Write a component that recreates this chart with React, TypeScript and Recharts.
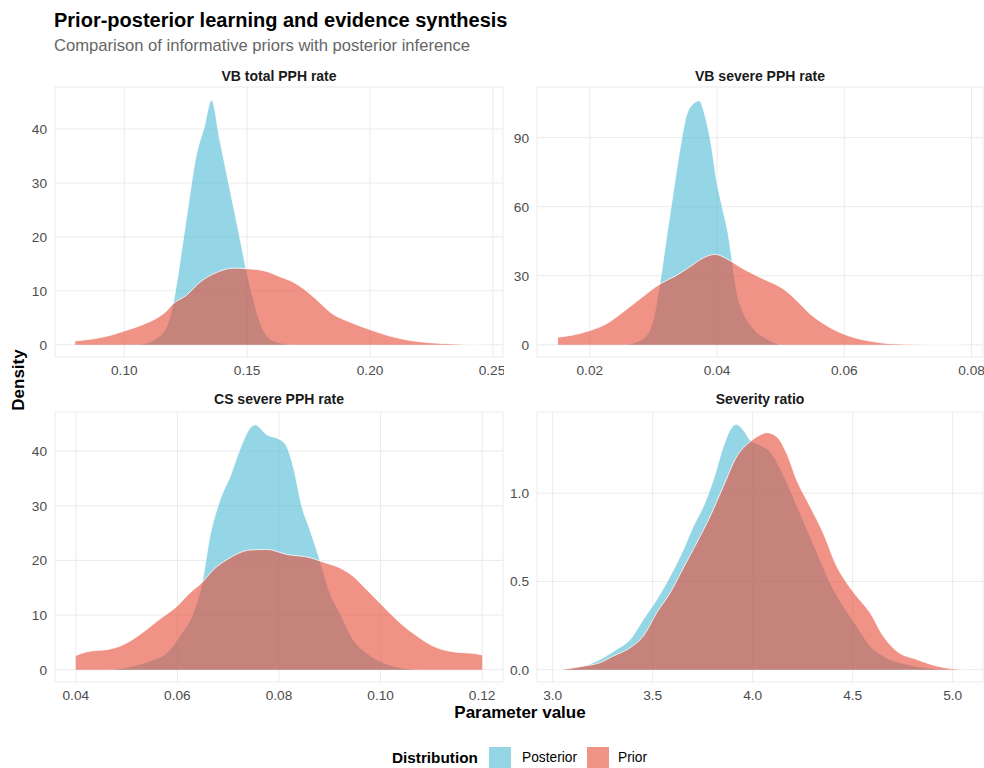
import { AreaChart, Area, XAxis, YAxis, CartesianGrid } from "recharts";

// [x, density] pairs
const vbTotalPosterior: [number, number][] = [
  [0.105, 0], [0.1098, 0.4], [0.1125, 1.0], [0.1166, 2.8], [0.1185, 5.0], [0.1199, 7.8],
  [0.1247, 21.7], [0.1294, 35.4], [0.1324, 40.2], [0.1355, 45.4], [0.1389, 37.9], [0.143, 28.8],
  [0.1471, 19.7], [0.1495, 14.2], [0.1525, 8.5], [0.1552, 4.2], [0.1579, 1.7], [0.162, 0.5],
  [0.1688, 0],
];
const vbTotalPrior: [number, number][] = [
  [0.08, 0.7], [0.0922, 1.5], [0.1003, 2.6], [0.1084, 3.9], [0.1145, 5.3], [0.1166, 6.0],
  [0.1199, 7.6], [0.1254, 9.2], [0.1308, 11.6], [0.1376, 13.4], [0.1444, 14.2], [0.1498, 14.1],
  [0.1579, 13.6], [0.1634, 12.6], [0.1688, 11.6], [0.1729, 10.4], [0.1796, 7.8], [0.1837, 6.05],
  [0.1918, 4.2], [0.2, 2.8], [0.2081, 1.6], [0.2163, 0.8], [0.2244, 0.37], [0.2313, 0.2],
  [0.2454, 0],
];
const vbSeverePosterior: [number, number][] = [
  [0.0255, 0], [0.0273, 1.2], [0.0289, 4], [0.03, 11.3], [0.031, 26.5], [0.0321, 47.5],
  [0.0331, 66], [0.0341, 84], [0.0352, 99.7], [0.036, 104], [0.0372, 106], [0.0381, 99.7],
  [0.0391, 86.7], [0.0399, 72], [0.041, 57.7], [0.0417, 49], [0.0424, 36], [0.0431, 23],
  [0.0441, 14.2], [0.0457, 7], [0.0478, 2.6], [0.0499, 0],
];
const vbSeverePrior: [number, number][] = [
  [0.015, 3.3], [0.0174, 4.3], [0.02, 6.2], [0.0226, 9.1], [0.0252, 14.2], [0.0279, 20],
  [0.0311, 26.5], [0.0336, 30.1], [0.0357, 33.8], [0.0378, 37.7], [0.0397, 39.3], [0.0415, 37.4],
  [0.0441, 33], [0.0472, 28.7], [0.0504, 24.3], [0.0525, 19.3], [0.0546, 13.5], [0.0572, 8.4],
  [0.0598, 4.8], [0.0619, 2.9], [0.0645, 1.4], [0.0672, 0.5], [0.0724, 0.15], [0.0785, 0],
];
const csSeverePosterior: [number, number][] = [
  [0.0468, 0], [0.0513, 0.7], [0.0546, 1.6], [0.0579, 3.1], [0.0605, 6.2], [0.0631, 10.4],
  [0.0648, 15.6], [0.0664, 24.4], [0.0684, 31.1], [0.0704, 35.4], [0.0723, 40.3], [0.0743, 44.2],
  [0.0753, 44.8], [0.0776, 43.0], [0.0802, 42.1], [0.0815, 40.9], [0.0828, 37.2], [0.0845, 29.9],
  [0.0861, 25.6], [0.0881, 19.9], [0.09, 14.1], [0.092, 10.4], [0.0946, 5.5], [0.0972, 3.1],
  [0.1005, 1.3], [0.1038, 0.4], [0.1077, 0],
];
const csSeverePrior: [number, number][] = [
  [0.04, 2.6], [0.0422, 3.3], [0.0468, 3.8], [0.0494, 4.6], [0.0527, 6.5], [0.0566, 9.3],
  [0.0599, 11.6], [0.0625, 14.1], [0.0648, 15.9], [0.0671, 18.3], [0.0704, 20.5], [0.0743, 21.9],
  [0.0776, 22.0], [0.0815, 21.1], [0.0861, 20.5], [0.0887, 19.7], [0.0927, 18.3], [0.0946, 17.1],
  [0.0972, 14.7], [0.1005, 11.6], [0.1038, 8.6], [0.1071, 6.2], [0.1104, 4.3], [0.115, 3.2],
  [0.1182, 3.0], [0.12, 2.7],
];
const ratioPosterior: [number, number][] = [
  [3.02, 0], [3.12, 0.011], [3.22, 0.049], [3.32, 0.115], [3.387, 0.171], [3.453, 0.284],
  [3.52, 0.397], [3.587, 0.529], [3.653, 0.68], [3.703, 0.812], [3.753, 0.925], [3.803, 1.075],
  [3.853, 1.264], [3.887, 1.358], [3.917, 1.39], [3.953, 1.358], [3.987, 1.301], [4.037, 1.273],
  [4.087, 1.235], [4.137, 1.141], [4.187, 1.019], [4.237, 0.887], [4.287, 0.755], [4.337, 0.623],
  [4.387, 0.492], [4.453, 0.36], [4.52, 0.247], [4.587, 0.134], [4.653, 0.077], [4.77, 0.03],
  [4.903, 0.006], [5.02, 0],
];
const ratioPrior: [number, number][] = [
  [3.037, 0], [3.137, 0.017], [3.237, 0.04], [3.303, 0.077], [3.387, 0.124], [3.453, 0.19],
  [3.52, 0.322], [3.587, 0.435], [3.653, 0.576], [3.72, 0.718], [3.787, 0.868], [3.853, 1.038],
  [3.92, 1.207], [3.987, 1.292], [4.037, 1.33], [4.07, 1.343], [4.12, 1.32], [4.17, 1.226],
  [4.22, 1.075], [4.287, 0.925], [4.353, 0.774], [4.42, 0.586], [4.47, 0.492], [4.52, 0.416],
  [4.587, 0.322], [4.653, 0.19], [4.72, 0.105], [4.82, 0.058], [4.92, 0.021], [5.053, 0],
];

const vbTotalXTicks = [0.1, 0.15, 0.2, 0.25];
const vbTotalYTicks = [0, 10, 20, 30, 40];
const vbSevereXTicks = [0.02, 0.04, 0.06, 0.08];
const vbSevereYTicks = [0, 30, 60, 90];
const csSevereXTicks = [0.04, 0.06, 0.08, 0.1, 0.12];
const csSevereYTicks = [0, 10, 20, 30, 40];
const ratioXTicks = [3.0, 3.5, 4.0, 4.5, 5.0];
const ratioYTicks = [0, 0.5, 1.0];

const POSTERIOR = "#4DBBD5";
const PRIOR = "#E64B35";
const FONT = "'Liberation Sans', Arial, sans-serif";

function mergeRows(post: [number, number][], prior: [number, number][]) {
  const rows: { x: number; posterior?: number; prior?: number }[] = [];
  post.forEach(([x, y]) => rows.push({ x, posterior: y }));
  prior.forEach(([x, y]) => rows.push({ x, prior: y }));
  return rows.sort((a, b) => a.x - b.x);
}

interface PanelProps {
  title: string;
  left: number;
  top: number;
  width: number;
  yAxisWidth: number;
  posterior: [number, number][];
  prior: [number, number][];
  xDomain: [number, number];
  yDomain: [number, number];
  xTicks: number[];
  yTicks: number[];
  xDigits: number;
  yDigits: number;
  titleTop: number;
}

function Panel(p: PanelProps) {
  const data = mergeRows(p.posterior, p.prior);
  const tick = { fill: "#4d4d4d", fontSize: 13.7, fontFamily: FONT };
  const plotLeft = p.left + p.yAxisWidth;
  const plotRight = p.left + p.width - 1;
  return (
    <>
      <div
        style={{
          position: "absolute",
          left: plotLeft,
          width: plotRight - plotLeft,
          top: p.titleTop,
          textAlign: "center",
          fontWeight: "bold",
          fontSize: 14,
          color: "#1a1a1a",
          fontFamily: FONT,
          lineHeight: "16px",
        }}
      >
        {p.title}
      </div>
      <div style={{ position: "absolute", left: p.left, top: p.top }}>
        <AreaChart width={p.width} height={301} data={data} margin={{ top: 8, right: 1, bottom: 0, left: 0 }}>
          <CartesianGrid stroke="#ebebeb" strokeWidth={1} />
          <XAxis
            dataKey="x"
            type="number"
            domain={p.xDomain}
            ticks={p.xTicks}
            allowDataOverflow
            axisLine={false}
            tickLine={false}
            height={23}
            tick={tick}
            tickFormatter={(v: number) => v.toFixed(p.xDigits)}
          />
          <YAxis
            type="number"
            domain={p.yDomain}
            ticks={p.yTicks}
            allowDataOverflow
            axisLine={false}
            tickLine={false}
            width={p.yAxisWidth}
            tick={tick}
            tickFormatter={(v: number) => v.toFixed(p.yDigits)}
          />
          <Area
            type="monotone"
            dataKey="posterior"
            connectNulls
            fill={POSTERIOR}
            fillOpacity={0.6}
            stroke="#ffffff"
            strokeWidth={0.8}
            dot={false}
            activeDot={false}
            isAnimationActive={false}
          />
          <Area
            type="monotone"
            dataKey="prior"
            connectNulls
            fill={PRIOR}
            fillOpacity={0.6}
            stroke="#ffffff"
            strokeWidth={0.8}
            dot={false}
            activeDot={false}
            isAnimationActive={false}
          />
        </AreaChart>
      </div>
    </>
  );
}

export default function App() {
  return (
    <div
      style={{
        position: "absolute",
        left: 0,
        top: 0,
        width: 984,
        height: 768,
        background: "#ffffff",
        fontFamily: FONT,
        overflow: "hidden",
      }}
    >
      <div style={{ position: "absolute", left: 54, top: 9, fontSize: 20, fontWeight: "bold", color: "#000", whiteSpace: "nowrap" }}>
        Prior-posterior learning and evidence synthesis
      </div>
      <div style={{ position: "absolute", left: 54, top: 36, fontSize: 16.6, color: "#666666", whiteSpace: "nowrap" }}>
        Comparison of informative priors with posterior inference
      </div>

      <Panel
        title="VB total PPH rate"
        left={0}
        top={79}
        width={504}
        yAxisWidth={55}
        posterior={vbTotalPosterior}
        prior={vbTotalPrior}
        xDomain={[0.0718, 0.2541]}
        yDomain={[-2.28, 47.8]}
        xTicks={vbTotalXTicks}
        yTicks={vbTotalYTicks}
        xDigits={2}
        yDigits={0}
        titleTop={68}
      />
      <Panel
        title="VB severe PPH rate"
        left={490}
        top={79}
        width={494}
        yAxisWidth={47}
        posterior={vbSeverePosterior}
        prior={vbSeverePrior}
        xDomain={[0.0117, 0.0818]}
        yDomain={[-5.3, 112]}
        xTicks={vbSevereXTicks}
        yTicks={vbSevereYTicks}
        xDigits={2}
        yDigits={0}
        titleTop={68}
      />
      <Panel
        title="CS severe PPH rate"
        left={0}
        top={404}
        width={504}
        yAxisWidth={55}
        posterior={csSeverePosterior}
        prior={csSeverePrior}
        xDomain={[0.0359, 0.1241]}
        yDomain={[-2.25, 47.15]}
        xTicks={csSevereXTicks}
        yTicks={csSevereYTicks}
        xDigits={2}
        yDigits={0}
        titleTop={391}
      />
      <Panel
        title="Severity ratio"
        left={490}
        top={404}
        width={494}
        yAxisWidth={47}
        posterior={ratioPosterior}
        prior={ratioPrior}
        xDomain={[2.9215, 5.1515]}
        yDomain={[-0.07, 1.46]}
        xTicks={ratioXTicks}
        yTicks={ratioYTicks}
        xDigits={1}
        yDigits={1}
        titleTop={391}
      />

      <div
        style={{
          position: "absolute",
          left: 19,
          top: 380,
          transform: "translate(-50%, -50%) rotate(-90deg)",
          fontSize: 17,
          fontWeight: "bold",
          whiteSpace: "nowrap",
        }}
      >
        Density
      </div>
      <div
        style={{
          position: "absolute",
          left: 520,
          top: 703,
          transform: "translateX(-50%)",
          fontSize: 17,
          fontWeight: "bold",
          whiteSpace: "nowrap",
        }}
      >
        Parameter value
      </div>

      <div style={{ position: "absolute", left: 392, top: 749, fontSize: 15.3, fontWeight: "bold", whiteSpace: "nowrap" }}>
        Distribution
      </div>
      <div style={{ position: "absolute", left: 489, top: 747, width: 22, height: 22, background: POSTERIOR, opacity: 0.6 }} />
      <div style={{ position: "absolute", left: 522, top: 750, fontSize: 13.75, color: "#000", whiteSpace: "nowrap" }}>
        Posterior
      </div>
      <div style={{ position: "absolute", left: 587, top: 747, width: 22, height: 22, background: PRIOR, opacity: 0.6 }} />
      <div style={{ position: "absolute", left: 618, top: 750, fontSize: 13.75, color: "#000", whiteSpace: "nowrap" }}>
        Prior
      </div>
    </div>
  );
}
